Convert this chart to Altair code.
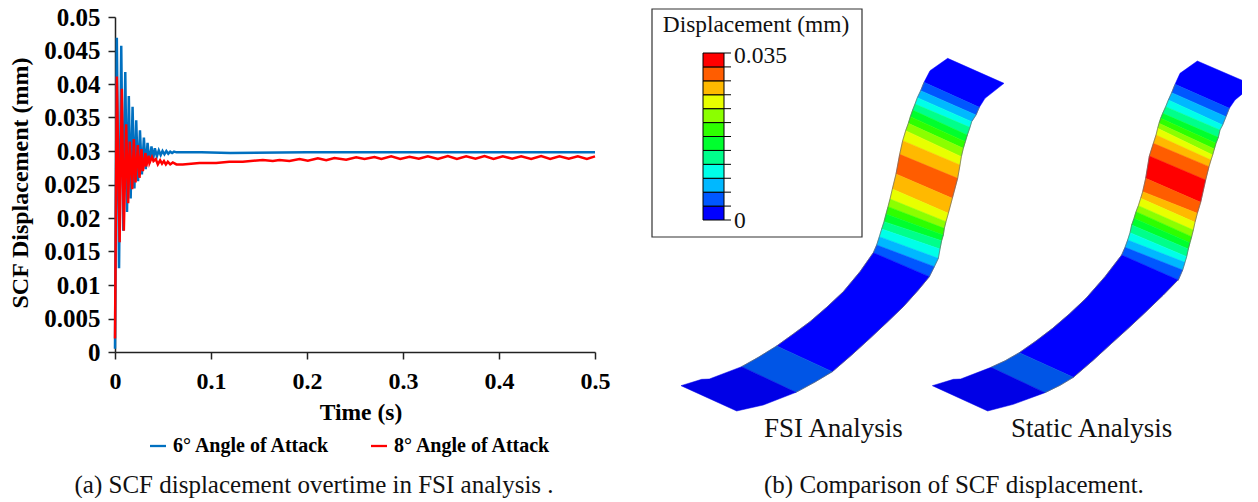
import altair as alt
import pandas as pd

SERIF = "Liberation Serif"
S6 = "6° Angle of Attack"
S8 = "8° Angle of Attack"

# ---- panel (a): values
t6 = [0, .0019, .0042, .0065, .0086, .0107, .0125, .0144, .0163, .0183, .0202, .0221, .0240, .0260, .0280, .0301,
      .0320, .0339, .0360, .0380, .0397, .0415, .0436, .0456, .0476, .0495, .0515, .0535, .0555, .0575, .0595, .0615, .064, .068, .075, .09, .12, .2, .3, .4, .5]
v6 = [.0005, .0469, .0125, .0457, .0181, .0418, .0209, .0382, .0229, .0366, .0244, .0346, .0255, .0331, .0265, .0320,
      .0273, .0312, .0282, .0307, .0288, .0304, .0292, .0301, .0294, .0300, .0295, .0300, .0296, .0299, .0297, .0299, .0298, .0298, .0298, .0298, .0297, .0298, .0298, .0298, .0298]
t8 = [0, .0019, .0048, .0071, .0092, .0116, .0137, .0154, .0179, .0196, .0214, .0238, .0255, .0276, .0290, .0318,
      .0325, .0350, .0359, .0385, .0401, .0425, .0446, .0470, .0490, .0510, .0530, .0550, .0575, .0602, .0640, .0706, .0880, .1054, .1190, .1331,
      .1540, .1644, .1713, .1817, .1922, .2009, .2113, .2200, .2286, .2408, .2512, .2599, .2703, .2775,
      .2877, .2971, .3068, .3165, .3259, .3363, .3467, .3561, .3658, .3755, .3849, .3943, .4040, .4137, .4231, .4335, .4439, .4533, .4630, .4727, .4821, .4915, .5]
v8 = [.0020, .0411, .0164, .0393, .0181, .0340, .0222, .0314, .0243, .0318, .0253, .0309, .0260, .0303, .0270, .0297,
      .0277, .0293, .0282, .0291, .0285, .0288, .0280, .0286, .0281, .0285, .0280, .0284, .0280, .0283, .0280, .0280, .0282, .0282, .0284, .0284,
      .02866, .02851, .02866, .02851, .02881, .02856, .02891, .02861, .02896, .02871, .02906, .02881, .02911, .02880,
      .0292, .0288, .02915, .02885, .0292, .0288, .02925, .0288, .0292, .02885, .02925, .0288, .0292, .02885, .0292, .0288, .02925, .0288, .0292, .02885, .0292, .0288, .0292]
x_ticks = [0, .1, .2, .3, .4, .5]
y_ticks = [0, .005, .01, .015, .02, .025, .03, .035, .04, .045, .05]
series_colors = ["#0070c0", "#ff0000"]

df = pd.DataFrame({"t": t6 + t8, "v": v6 + v8, "s": [S6] * len(t6) + [S8] * len(t8)})

PL_X, PL_Y = 115.5, 17   # plot origin of (a) in the picture
lines = alt.Chart(df).mark_line(strokeWidth=2.5, strokeJoin="miter", interpolate="linear").encode(
    x=alt.X("t:Q", scale=alt.Scale(domain=[0, .5]),
            axis=alt.Axis(values=x_ticks, format=".1~f", title="Time (s)", grid=False, titleFontSize=23.5,
                          titleFont=SERIF, titleFontWeight="bold", titleColor="black", titlePadding=7, labelFlush=False,
                          titleX=245.5,
                          labelFont=SERIF, labelFontSize=24, labelFontWeight="bold", labelColor="black", labelPadding=10,
                          tickSize=7, tickColor="#222", domainColor="#222", domainWidth=1.5, tickWidth=1.5)),
    y=alt.Y("v:Q", scale=alt.Scale(domain=[0, .05]),
            axis=alt.Axis(values=y_ticks, format=".3~f", title="SCF Displacement (mm)", grid=False, titleFontSize=24,
                          titleFont=SERIF, titleFontWeight="bold", titleColor="black", titlePadding=11, titleY=165.5,
                          labelFont=SERIF, labelFontSize=25, labelFontWeight="bold", labelColor="black", labelPadding=8,
                          tickSize=7, tickColor="#222", domainColor="#222", domainWidth=1.5, tickWidth=1.5)),
    color=alt.Color("s:N", scale=alt.Scale(domain=[S6, S8], range=series_colors),
                    legend=alt.Legend(title=None, orient="none", legendX=33, legendY=419, direction="horizontal",
                                      columns=2, symbolType="stroke", symbolSize=256, symbolStrokeWidth=2.3,
                                      labelFont=SERIF, labelFontSize=20, labelFontWeight="bold", labelColor="black",
                                      columnPadding=35, labelOffset=5, padding=0)),
)
cap_a = alt.Chart(pd.DataFrame({"t": ["(a) SCF displacement overtime in FSI analysis ."]})).mark_text(
    font=SERIF, fontSize=25, align="left", baseline="alphabetic", color="#111").encode(
    x=alt.value(75 - PL_X), y=alt.value(493 - PL_Y), text="t:N")
left = alt.layer(lines, cap_a).properties(width=480, height=335)

# ---- panel (b)
OX, OY = 652, 17   # origin of panel (b) in the picture
z3 = lambda p: (860 + p[0] / 3, 50 + p[1] / 3)
z4 = lambda p: (670 + p[0] / 3, 230 + p[1] / 3)

scale_colors = ["#0000ff", "#0057ff", "#00b8ff", "#00ffe8", "#00ff8b", "#00ff2e",
                "#2eff00", "#8bff00", "#e8ff00", "#ffb900", "#ff5d00", "#ff0000"]
B2, LB, CY, TE, GR, DG, LI, YE, OR, RO, RD = scale_colors[1:]

fsi_left = [(192,97),(182,122),(172,143),(165,162),(158,180),(151,200),(145,220),(137,242),(128,272),(119,313),
            (108,372),(97,417),(90,447),(84,470),(78,492),(72,515),(65,537),(58,560),(50,585),(40,608)]
fsi_right = [(358,172),(348,195),(335,215),(330,232),(322,255),(316,275),(310,295),(304,320),(300,345),(293,385),
             (277,445),(265,490),(258,515),(253,535),(250,555),(245,572),(240,597),(235,625),(223,650),(208,680)]
fsi_bands = [B2, LB, CY, TE, GR, DG, LI, YE, OR, RO, OR, YE, LI, DG, GR, TE, CY, LB, B2]
sta_left = [(945,103),(935,128),(925,150),(917,170),(908,190),(902,205),(897,220),(893,235),(888,255),(880,280),(868,318),
            (857,385),(848,425),(842,445),(835,467),(828,485),(822,505),(815,525),(810,548),(803,570),(795,592),(785,615)]
sta_right = [(1108,175),(1098,200),(1088,225),(1080,240),(1075,262),(1068,280),(1063,297),(1058,315),(1053,330),(1047,350),(1037,390),
             (1022,457),(1012,490),(1005,517),(1000,540),(995,560),(990,578),(985,597),(980,620),(975,637),(968,660),(955,690)]
sta_bands = [B2, LB, CY, TE, GR, DG, LI, YE, OR, RO, RD, RO, OR, YE, LI, DG, GR, TE, CY, LB, B2]

fsi_top = [(263,25),(432,100),(375,145),(358,172),(192,97),(210,62)]
sta_top = [(1012,33),(1179,105),(1125,150),(1108,175),(945,103),(960,70)]
fsi_mid_l = [(610,68),(570,125),(520,185),(470,232),(420,275),(370,312),(320,348)]
fsi_mid_r = [(487,425),(545,375),(600,325),(650,278),(700,230),(745,180),(778,140)]
fsi_band_l = [(320,348),(265,382),(215,410)]
fsi_band_r = [(378,487),(435,456),(487,425)]
fsi_foot = [(215,410),(118,447),(95,448),(33,467),(200,543),(280,525),(378,487)]
sta_mid_l = [(1355,75),(1305,140),(1248,205),(1198,252),(1148,295),(1098,333),(1048,368)]
sta_mid_r = [(1210,442),(1268,392),(1325,340),(1378,292),(1428,245),(1480,195),(1524,150)]
sta_band_l = [(1048,368),(1006,392),(963,412)]
sta_band_r = [(1125,488),(1170,466),(1210,442)]
sta_foot = [(963,412),(872,447),(850,448),(787,467),(953,543),(1030,523),(1125,488)]
BLUE, FOOT, MID = "#0000ff", "#0000e6", "#0055e6"
EDGE = "#666666"


def feat(points, fill, stroke=None, width=0.5):
    ring = [list(p) for p in points]
    ring.append(ring[0])
    return {"type": "Feature", "geometry": {"type": "Polygon", "coordinates": [ring]},
            "properties": {"f": fill, "s": stroke or fill, "w": width}}


def edge(points):
    return {"type": "Feature", "geometry": {"type": "LineString", "coordinates": [list(p) for p in points]},
            "properties": {"f": "transparent", "s": EDGE, "w": 0.7}}


feats = []
for name, L, R, bands, top, ml, mr, bl, br, ft in [
    ("fsi", fsi_left, fsi_right, fsi_bands, fsi_top, fsi_mid_l, fsi_mid_r, fsi_band_l, fsi_band_r, fsi_foot),
    ("sta", sta_left, sta_right, sta_bands, sta_top, sta_mid_l, sta_mid_r, sta_band_l, sta_band_r, sta_foot),
]:
    Lp, Rp = [z3(p) for p in L], [z3(p) for p in R]
    feats.append(feat([z3(p) for p in top], BLUE))
    for i, c in enumerate(bands):
        feats.append(feat([Lp[i], Rp[i], Rp[i + 1], Lp[i + 1]], c))
    feats.append(feat([Lp[-1]] + [z4(p) for p in ml] + [z4(p) for p in mr] + [Rp[-1]], BLUE))
    feats.append(feat([z4(p) for p in bl + br], MID))
    feats.append(feat([z4(p) for p in ft], FOOT))
    feats.append(edge(Lp[:-1] + [z4(p) for p in ml] + [z4(p) for p in bl[1:]]))
    feats.append(edge([z4(p) for p in br[:-1]] + [z4(p) for p in mr] + Rp[::-1]))

shapes = alt.Chart(alt.Data(values=feats)).mark_geoshape().encode(
    fill=alt.Fill("properties.f:N", scale=None),
    stroke=alt.Stroke("properties.s:N", scale=None),
    strokeWidth=alt.StrokeWidth("properties.w:Q", scale=None),
).project(type="identity", scale=1, translate=[-OX, -OY])

# colour scale box
box = alt.Chart(pd.DataFrame({"a": [0]})).mark_rect(fill="white", stroke="#333", strokeWidth=1.2).encode(
    x=alt.value(0), x2=alt.value(210), y=alt.value(9 - OY), y2=alt.value(237 - OY))

step = 0.035 / 12
bar_df = pd.DataFrame({"lo": [i * step for i in range(12)], "hi": [(i + 1) * step for i in range(12)], "c": scale_colors})
yscale = alt.Scale(domain=[0, .035], range=[220 - OY, 53 - OY])
bar = alt.Chart(bar_df).mark_rect(stroke="black", strokeWidth=1).encode(
    x=alt.value(51), x2=alt.value(72),
    y=alt.Y("lo:Q", scale=yscale, axis=None), y2="hi:Q",
    fill=alt.Fill("c:N", scale=None))
tick_df = pd.DataFrame({"v": [i * step for i in range(13)]})
ticks = alt.Chart(tick_df).mark_rule(color="black", strokeWidth=1).encode(
    x=alt.value(72), x2=alt.value(79), y=alt.Y("v:Q", scale=yscale, axis=None))


def label(s, x, y, size, align="left"):
    return alt.Chart(pd.DataFrame({"t": [s]})).mark_text(
        font=SERIF, fontSize=size, align=align, baseline="alphabetic", color="#111").encode(
        x=alt.value(x - OX), y=alt.value(y - OY), text="t:N")


texts = [
    label("Displacement (mm)", 756, 32, 23.4, "center"),
    label("0.035", 734, 63, 23.5),
    label("0", 734, 228, 23.5),
    label("FSI Analysis", 764, 437, 27),
    label("Static Analysis", 1011, 437, 27),
    label("(b) Comparison of SCF displacement.", 764, 493, 25),
]
right = alt.layer(box, shapes, bar, ticks, *texts).properties(width=590, height=470)

chart = alt.hconcat(left, right, spacing=41).configure_view(stroke=None).properties(
    padding={"left": 0, "top": -3, "right": 0, "bottom": 0})
chart.save("out.html", embed_options={"renderer": "svg", "actions": False})
